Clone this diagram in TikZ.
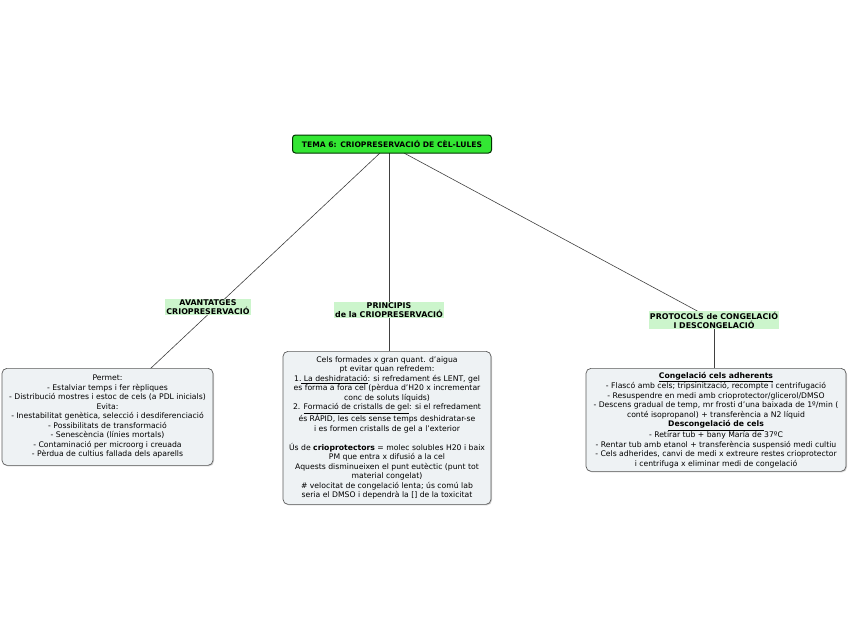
\documentclass[tikz,border=0pt]{standalone}
\usepackage{fontspec}
\setmainfont{DejaVu Sans}
\usetikzlibrary{shadows,backgrounds}
\definecolor{rootgreen}{HTML}{33E633}
\definecolor{labgreen}{HTML}{CCF5CC}
\definecolor{boxfill}{HTML}{EEF2F4}
\definecolor{boxline}{HTML}{5A5A5A}
\tikzset{
  rootbox/.style={draw=black!80!green, line width=1pt, fill=rootgreen, rounded corners=3pt,
    font=\fontsize{7.6}{9}\selectfont\bfseries, minimum width=199pt, minimum height=18pt, inner sep=1pt},
  lab/.style={fill=labgreen, font=\fontsize{7.9}{9}\selectfont\bfseries, align=center, inner sep=1pt},
  infobox/.style={draw=boxline, line width=0.7pt, fill=boxfill, rounded corners=5pt, align=center,
    font=\fontsize{7.7}{9.5}\selectfont, inner sep=2pt,
    drop shadow={shadow xshift=1pt, shadow yshift=-1pt, opacity=0.35}},
  conn/.style={draw=black!75, line width=0.6pt}
}
\begin{document}
\begin{tikzpicture}[x=1pt,y=-1pt]
\useasboundingbox (0,0) rectangle (848,638);
\node[rootbox] (root) at (392,144) {TEMA 6: CRIOPRESERVACIÓ DE CÈL-LULES};
\node[lab] (l1) at (208,307) {AVANTATGES\\CRIOPRESERVACIÓ};
\node[lab] (l2) at (389,310) {PRINCIPIS\\de la CRIOPRESERVACIÓ};
\node[lab] (l3) at (714,320) {PROTOCOLS de CONGELACIÓ\\I DESCONGELACIÓ};
\coordinate (r1) at (380,153);
\coordinate (r2) at (389,153);
\coordinate (r3) at (404,153);
\coordinate (b1top) at (150,369);
\node[infobox, minimum width=211pt, minimum height=97pt, anchor=north] (b1) at (107.5,368) {Permet:\\
- Estalviar temps i fer rèpliques\\
- Distribució mostres i estoc de cels (a PDL inicials)\\
Evita:\\
- Inestabilitat genètica, selecció i desdiferenciació\\
- Possibilitats de transformació\\
- Senescència (línies mortals)\\
- Contaminació per microorg i creuada\\
- Pèrdua de cultius fallada dels aparells};
\node[infobox, minimum width=208pt, minimum height=153pt, anchor=north] (b2) at (387,351) {Cels formades x gran quant. d'aigua\\
pt evitar quan refredem:\\
1.\underline{ La deshidratació}: si refredament és LENT, gel\\
es forma a fora cel (pèrdua d'H20 x incrementar\\
conc de soluts líquids)\\
2. \underline{Formació de cristalls de gel}: si el refredament\\
és RÀPID, les cels sense temps deshidratar-se\\
i es formen cristalls de gel a l'exterior\\[9.5pt]
Ús de \textbf{crioprotectors} = molec solubles H20 i baix\\
PM que entra x difusió a la cel\\
Aquests disminueixen el punt eutèctic (punt tot\\
material congelat)\\
\# velocitat de congelació lenta; ús comú lab\\
seria el DMSO i dependrà la [] de la toxicitat};
\node[infobox, minimum width=260pt, minimum height=103pt, anchor=north] (b3) at (716,368) {\underline{\textbf{Congelació cels adherents}}\\
- Flascó amb cels; tripsinització, recompte i centrifugació\\
- Resuspendre en medi amb crioprotector/glicerol/DMSO\\
- Descens gradual de temp, mr frosti d'una baixada de 1º/min (\\
conté isopropanol) + transferència a N2 líquid\\
\underline{\textbf{Descongelació de cels}}\\
- Retirar tub + bany María de 37ºC\\
- Rentar tub amb etanol + transferència suspensió medi cultiu\\
- Cels adherides, canvi de medi x extreure restes crioprotector\\
i centrifuga x eliminar medi de congelació};
% connectors
\begin{scope}[on background layer]
\draw[conn] (r1) -- (b1top);
\draw[conn] (r2) -- (b2.north -| r2);
\draw[conn] (r3) -- (l3.center);
\draw[conn] (l3.center) -- (b3.north -| l3.center);
\end{scope}
\end{tikzpicture}
\end{document}
